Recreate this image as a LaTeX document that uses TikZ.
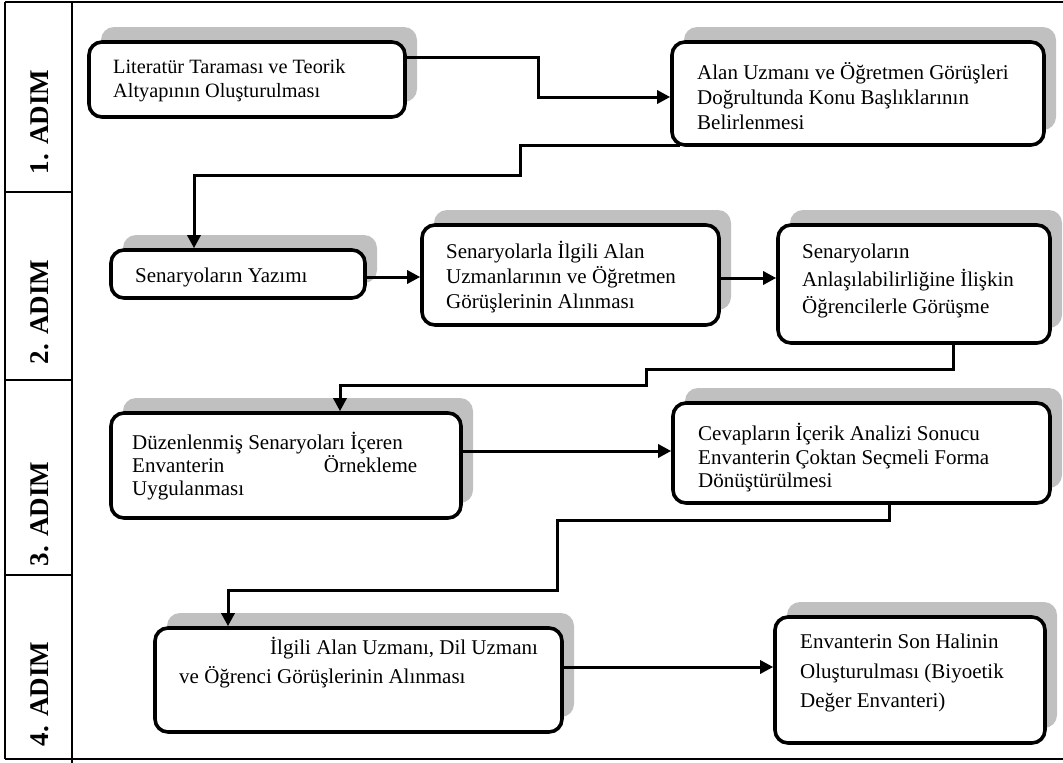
\documentclass[tikz,border=0pt]{standalone}
\usepackage{fontspec}
\setmainfont{Liberation Serif}
\usetikzlibrary{arrows.meta,shadows}
\definecolor{shadowgray}{RGB}{192,192,192}
\tikzset{
 box/.style={draw=black, line width=3.6pt, rounded corners=13pt, fill=white, inner sep=0pt,
   drop shadow={shadow xshift=12pt, shadow yshift=15pt, fill=shadowgray, opacity=1}},
 txt/.style={anchor=west, align=left, inner sep=0pt, font=\fontsize{21}{25}\selectfont},
 conn/.style={draw=black, line width=3pt, -{Triangle[length=13pt,width=13pt]}},
 frame/.style={line width=1.6pt},
 steplabel/.style={rotate=90, inner sep=0pt, font=\fontsize{27}{30}\selectfont\bfseries},
}
\begin{document}
\begin{tikzpicture}[x=1pt,y=-1pt]
\useasboundingbox (0,0) rectangle (1063,763);
% frame
\draw[frame] (5,2) -- (1063,2);
\draw[frame] (5,2) -- (5,759);
\draw[frame] (72,2) -- (72,763);
\draw[frame] (5,192) -- (72,192);
\draw[frame] (5,380) -- (72,380);
\draw[frame] (5,575) -- (72,575);
\draw[frame] (5,759) -- (1063,759);
% step labels
\node[steplabel] (s1) at (40,122) {1. ADIM};
\node[steplabel] (s2) at (40,312) {2. ADIM};
\node[steplabel] (s3) at (40,514) {3. ADIM};
\node[steplabel] (s4) at (40,694) {4. ADIM};
% boxes
\node[box, minimum width=316pt, minimum height=75pt] (b1) at (247,79.5) {};
\node[box, minimum width=372pt, minimum height=103pt] (b2) at (858,93.5) {};
\node[box, minimum width=254pt, minimum height=48pt] (b3) at (238,274) {};
\node[box, minimum width=297pt, minimum height=100pt] (b4) at (570.5,275) {};
\node[box, minimum width=272pt, minimum height=118pt] (b5) at (914,284) {};
\node[box, minimum width=350pt, minimum height=105pt] (b6) at (286,465.5) {};
\node[box, minimum width=377pt, minimum height=100pt] (b7) at (861.5,453) {};
\node[box, minimum width=407pt, minimum height=104pt] (b8) at (358.5,680) {};
\node[box, minimum width=270pt, minimum height=126pt] (b9) at (910,680) {};
% texts
\node[txt, font=\fontsize{20.3}{24}\selectfont] (t1) at (113,81) {Literatür Taraması ve Teorik\\Altyapının Oluşturulması};
\node[txt] (t2) at (697,96) {Alan Uzmanı ve Öğretmen Görüşleri\\Doğrultunda Konu Başlıklarının\\Belirlenmesi};
\node[txt] (t3) at (135,277) {Senaryoların Yazımı};
\node[txt] (t4) at (446,277) {Senaryolarla İlgili Alan\\Uzmanlarının ve Öğretmen\\Görüşlerinin Alınması};
\node[txt, font=\fontsize{21}{27.5}\selectfont] (t5) at (802,281) {Senaryoların\\Anlaşılabilirliğine İlişkin\\Öğrencilerle Görüşme};
\node[txt, font=\fontsize{21}{23}\selectfont] (t6) at (132,466) {Düzenlenmiş Senaryoları İçeren\\\makebox[285pt]{Envanterin\hfill Örnekleme}\\Uygulanması};
\node[txt, font=\fontsize{21}{23.5}\selectfont] (t7) at (698,458) {Cevapların İçerik Analizi Sonucu\\Envanterin Çoktan Seçmeli Forma\\Dönüştürülmesi};
\node[txt, font=\fontsize{21}{29}\selectfont] (t8) at (179,663) {\hspace*{91pt}İlgili Alan Uzmanı, Dil Uzmanı\\ve Öğrenci Görüşlerinin Alınması};
\node[txt, font=\fontsize{21}{29.5}\selectfont] (t9) at (800,673) {Envanterin Son Halinin\\Oluşturulması (Biyoetik\\Değer Envanteri)};
% connectors
\coordinate (k1) at (538,57);
\draw[conn] (b1.east |- k1) -- (k1) |- (b2.west |- 0,97);
\coordinate (k2a) at (520,145);
\coordinate (k2b) at (520,175);
\draw[conn] (680,145) -- (k2a) -- (k2b) -| (b3.north -| 194,0);
\draw[conn] (b3.east |- 0,277) -- (b4.west |- 0,277);
\draw[conn] (b4.east |- 0,278) -- (b5.west |- 0,278);
\coordinate (k5a) at (646,369);
\coordinate (k5b) at (646,385);
\draw[conn] (b5.south -| 953,0) |- (k5a) -- (k5b) -| (b6.north -| 340,0);
\draw[conn] (b6.east |- 0,451) -- (b7.west |- 0,451);
\coordinate (k7a) at (557,520);
\coordinate (k7b) at (557,590);
\draw[conn] (b7.south -| 889,0) |- (k7a) -- (k7b) -| (b8.north -| 228,0);
\draw[conn] (b8.east |- 0,667) -- (b9.west |- 0,667);
\end{tikzpicture}
\end{document}
